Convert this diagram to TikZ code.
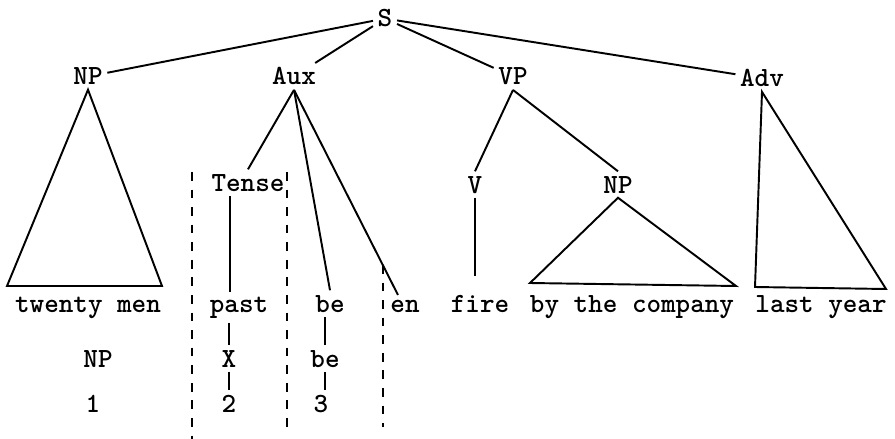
\documentclass[tikz,border=0pt]{standalone}
\usepackage{tikz}

\tikzset{
    lbl/.style={font=\ttfamily\bfseries\fontsize{15.8}{18}\selectfont, inner sep=2.5pt, anchor=base},
    branch/.style={line width=1.1pt},
    cut/.style={line width=1.1pt, dash pattern=on 5pt off 5pt}
}

\begin{document}
\begin{tikzpicture}[x=0.02cm, y=-0.02cm]

    \useasboundingbox (0,0) rectangle (895,439);

    % Top of the tree
     \node[lbl] (S) at (385,27) {S};
     \node[lbl] (NP) at (88,85) {NP};
     \node[lbl] (Aux) at (294,85) {Aux};
     \node[lbl] (VP) at (513,85) {VP};
     \node[lbl] (Adv) at (762,87) {Adv};
     \draw[branch] (S) -- (NP);
     \draw[branch] (S) -- (Aux);
     \draw[branch] (S) -- (VP);
     \draw[branch] (S) -- (Adv);

    % Middle level
     \node[lbl] (Tense) at (248,191) {Tense};
     \node[lbl] (V) at (475,193) {V};
     \node[lbl] (NPb) at (618,193) {NP};

    % Terminal string
     \node[lbl] (twenty) at (88,312) {twenty men};
     \node[lbl] (past) at (239,312) {past};
     \node[lbl] (be) at (330,312) {be};
     \node[lbl] (en) at (405,312) {en};
     \node[lbl] (fire) at (480,312) {fire};
     \node[lbl] (company) at (632,312) {by the company};
     \node[lbl] (year) at (821,312) {last year};

    % NP triangle
     \coordinate (npL) at (7,286);
     \coordinate (npR) at (162,286);
     \draw[branch] (NP.south) -- (npL) -- (npR) -- cycle;

    % Aux branches
     \draw[branch] (Aux.south) -- (Tense.north);
     \draw[branch] (Aux.south) -- (be.north);
     \draw[branch] (Aux.south) -- ([xshift=-4pt]en.north);
     \draw[branch] (Tense.south -| past.120) -- (past.120);

    % VP branches
     \coordinate (vEnd) at (475,276);
     \draw[branch] (VP.south) -- (V.north);
     \draw[branch] (VP.south) -- (NPb.north);
     \draw[branch] (V.south) -- (vEnd);
     \coordinate (nbL) at (530,283);
     \coordinate (nbR) at (736,286);
     \draw[branch] (NPb.south) -- (nbL) -- (nbR) -- cycle;

    % Adv triangle
     \coordinate (advL) at (755,287);
     \coordinate (advR) at (886,289);
     \draw[branch] (Adv.south) -- (advL) -- (advR) -- cycle;

    % Structural analysis
     \node[lbl] (npTerm) at (98,367) {NP};
     \node[lbl] (one) at (93,412) {1};
     \node[lbl] (X) at (229,367) {X};
     \node[lbl] (two) at (229,412) {2};
     \node[lbl] (beTerm) at (325,367) {be};
     \node[lbl] (three) at (321,412) {3};
     \draw[branch] (X.north |- past.south) -- (X.north);
     \draw[branch] (X.south) -- (two.north);
     \draw[branch] (beTerm.north |- be.south) -- (beTerm.north);
     \draw[branch] (beTerm.south) -- (beTerm.south |- three.north);

    % Dashed cuts
     \draw[cut] (192,172) -- (192,439);
     \draw[cut] (287,172) -- (287,435);
     \draw[cut] (383,265) -- (383,427);

\end{tikzpicture}
\end{document}
